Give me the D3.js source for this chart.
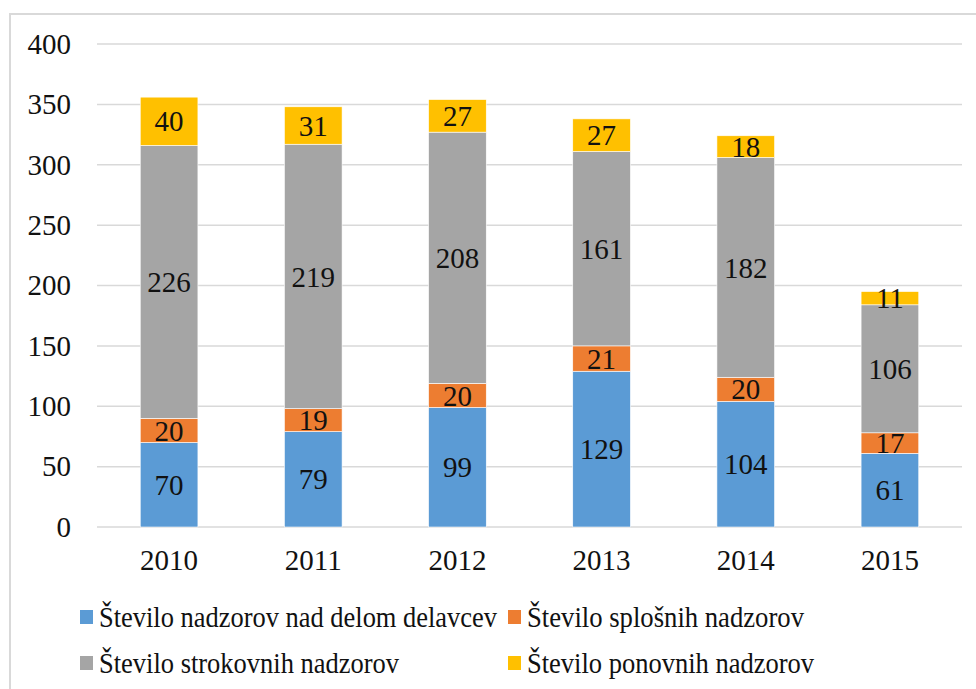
<!DOCTYPE html>
<html><head><meta charset="utf-8">
<script src="https://cdnjs.cloudflare.com/ajax/libs/d3/7.8.5/d3.min.js"></script>
<style>
html,body{margin:0;padding:0;background:#fff;}
</style></head>
<body><svg id="c" width="976" height="689" font-family="Liberation Serif"></svg>
<script>
const years = ["2010","2011","2012","2013","2014","2015"];
const seriesNames = ["Število nadzorov nad delom delavcev","Število splošnih nadzorov","Število strokovnih nadzorov","Število ponovnih nadzorov"];
const seriesColors = ["#5B9BD5","#ED7D31","#A5A5A5","#FFC000"];
const delavci = [70,79,99,129,104,61];
const splosni = [20,19,20,21,20,17];
const strokovni = [226,219,208,161,182,106];
const ponovni = [40,31,27,27,18,11];
const yTicks = [0,50,100,150,200,250,300,350,400];

const values = [delavci, splosni, strokovni, ponovni];
const rows = years.map((y,i)=>{const r={year:y}; values.forEach((v,k)=>r["s"+k]=v[i]); return r;});
const keys = ["s0","s1","s2","s3"];

const svg = d3.select("#c");
const FS = 29;
const FF = "Liberation Serif";
svg.append("rect").attr("x",10).attr("y",14).attr("width",1000).attr("height",1000)
  .attr("fill","#fff").attr("stroke","#d9d9d9").attr("stroke-width",2);

const x = d3.scaleBand().domain(years).range([97,962]).paddingInner(0.6).paddingOuter(0.3);
const y = d3.scaleLinear().domain([0,400]).range([527,44]);

svg.append("g").selectAll("line").data(yTicks).join("line")
  .attr("x1",97).attr("x2",962).attr("y1",d=>y(d)).attr("y2",d=>y(d))
  .attr("stroke","#d9d9d9").attr("stroke-width",1.5);

const yAxis = svg.append("g").attr("transform","translate(71,0)")
  .call(d3.axisLeft(y).tickValues(yTicks).tickSize(0).tickPadding(0));
yAxis.attr("font-family",FF).attr("font-size",FS);
yAxis.select(".domain").remove();
yAxis.selectAll("text").attr("font-family",FF).attr("font-size",FS).attr("fill","#111");

const xAxis = svg.append("g").attr("transform","translate(0,527)")
  .call(d3.axisBottom(x).tickSize(0).tickPadding(22));
xAxis.attr("font-family",FF).attr("font-size",FS);
xAxis.select(".domain").remove();
xAxis.selectAll("text").attr("font-family",FF).attr("font-size",FS).attr("fill","#111");

const stack = d3.stack().keys(keys)(rows);
const g = svg.append("g");
stack.forEach((layer,k)=>{
  g.selectAll(null).data(layer).join("rect")
    .attr("x",d=>x(d.data.year)).attr("width",x.bandwidth())
    .attr("y",d=>y(d[1])).attr("height",d=>y(d[0])-y(d[1]))
    .attr("fill",seriesColors[k]).attr("stroke","#fff").attr("stroke-width",0.6);
  g.selectAll(null).data(layer).join("text")
    .attr("x",d=>x(d.data.year)+x.bandwidth()/2)
    .attr("y",d=>(y(d[0])+y(d[1]))/2)
    .attr("dy","0.35em").attr("text-anchor","middle")
    .attr("font-family",FF).attr("font-size",FS).attr("fill","#111")
    .text(d=>d[1]-d[0]);
});

const legendPos = [[80,617,398],[508,617,277],[80,663,300],[508,663,287]];
seriesNames.forEach((n,k)=>{
  const [lx,ly,tw] = legendPos[k];
  svg.append("rect").attr("x",lx).attr("y",ly-7).attr("width",13).attr("height",14).attr("fill",seriesColors[k]);
  svg.append("text").attr("x",lx+19).attr("y",ly).attr("dy","0.35em")
    .attr("font-family",FF).attr("font-size",FS).attr("fill","#111")
    .attr("textLength",tw).attr("lengthAdjust","spacingAndGlyphs")
    .text(n);
});
</script></body></html>
